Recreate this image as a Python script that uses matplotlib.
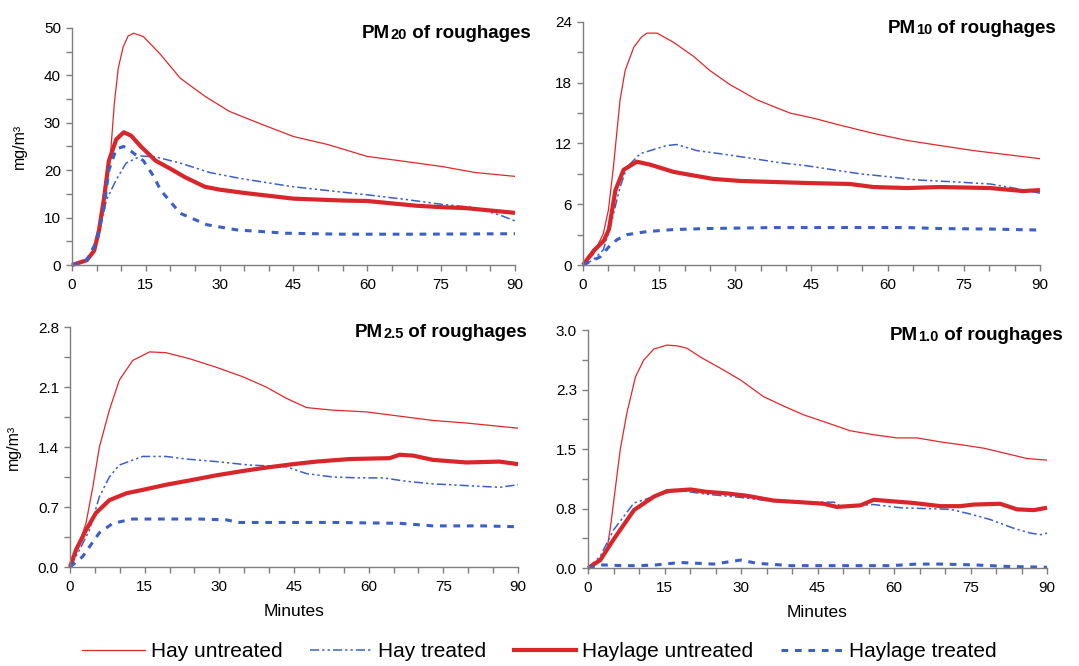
import matplotlib
matplotlib.use('Agg')
import matplotlib.pyplot as plt
from matplotlib.ticker import MultipleLocator, FixedLocator
from matplotlib.lines import Line2D

plt.rcParams['font.family'] = ['Liberation Sans', 'DejaVu Sans']

# ---- PM20 ----
pm20_hay_t = [0, 2, 4, 5.5, 6.5, 7.8, 8.6, 9.4, 10.4, 11.4, 12.5, 14.5, 18, 22, 27, 32, 38, 45, 52, 60, 68, 75, 82, 90]
pm20_hay_v = [0, 0.5, 2, 6, 13, 23, 34, 41.5, 46, 48.3, 48.9, 48.2, 44.4, 39.4, 35.6, 32.4, 29.9, 27.1, 25.4, 22.9, 21.8, 20.8, 19.5, 18.7]
pm20_hayt_t = [0, 2, 4, 5.5, 7, 9, 11, 14, 17, 22, 28, 34, 40, 45, 52, 60, 68, 75, 82, 87, 90]
pm20_hayt_v = [0, 0.5, 2, 7, 13.7, 18, 21.5, 23, 22.8, 21.5, 19.5, 18.3, 17.3, 16.5, 15.7, 14.8, 13.8, 12.8, 12.1, 10.5, 9.3]
pm20_hlg_t = [0, 3, 4.5, 5.5, 6.5, 7.5, 9, 10.5, 12, 14, 17, 20, 23, 27, 30, 35, 40, 45, 50, 55, 60, 65, 70, 75, 80, 85, 90]
pm20_hlg_v = [0, 1, 3, 7.4, 14, 22, 26.5, 28, 27.3, 25, 22, 20.3, 18.5, 16.5, 15.9, 15.2, 14.6, 14.0, 13.8, 13.6, 13.5, 13.0, 12.5, 12.2, 12.0, 11.5, 11.0]
pm20_hlgt_t = [0, 3, 5, 6.5, 7.5, 9, 10.5, 12, 14.5, 16.6, 18, 22, 27.4, 33.5, 43.6, 55, 70, 90]
pm20_hlgt_v = [0, 1, 5, 12, 20, 24.5, 25, 24, 22, 18.7, 15.8, 10.9, 8.5, 7.4, 6.7, 6.5, 6.5, 6.6]

# ---- PM10 ----
pm10_hay_t = [0, 2, 4, 5, 6, 7.3, 8.3, 10, 11.5, 12.6, 14.6, 17.8, 21.8, 25, 29, 34.3, 40.8, 45.4, 50.7, 57.2, 63.8, 70.3, 76.9, 83.5, 90]
pm10_hay_v = [0, 1, 3.1, 5.4, 9.7, 16.3, 19.2, 21.5, 22.5, 22.9, 22.9, 22.0, 20.6, 19.2, 17.8, 16.3, 15.0, 14.5, 13.8, 13.0, 12.3, 11.8, 11.3, 10.9, 10.5]
pm10_hayt_t = [0, 2, 4, 5.4, 7.3, 8.7, 11.3, 16.5, 18.5, 22.4, 28.3, 33.6, 38.8, 44.1, 49.3, 54.6, 60.5, 65.7, 73.6, 80.2, 84.8, 90]
pm10_hayt_v = [0, 0.5, 1.5, 3.8, 7.7, 9.7, 11, 11.8, 11.9, 11.3, 10.9, 10.5, 10.1, 9.8, 9.4, 9.0, 8.7, 8.4, 8.2, 8.0, 7.6, 7.1]
pm10_hlg_t = [0, 2.1, 4.1, 5.1, 6.4, 8, 10.6, 13.3, 17.8, 21.1, 25.7, 31, 37.5, 44, 52.6, 57.2, 63.8, 70.3, 80.2, 86.7, 90]
pm10_hlg_v = [0, 1.4, 2.4, 3.5, 7.4, 9.4, 10.2, 9.9, 9.2, 8.9, 8.5, 8.3, 8.2, 8.1, 8.0, 7.7, 7.6, 7.7, 7.6, 7.3, 7.4]
pm10_hlgt_t = [0, 3.4, 5.1, 6.7, 8.7, 12.6, 17.8, 24.4, 37.5, 50.7, 63.8, 70.3, 80.2, 90]
pm10_hlgt_v = [0, 0.8, 1.8, 2.5, 3.0, 3.3, 3.5, 3.6, 3.7, 3.7, 3.7, 3.6, 3.55, 3.45]

# ---- PM2.5 ----
pm25_hay_t = [0, 1.2, 3.2, 4.6, 5.9, 7.9, 9.9, 12.6, 16, 19.3, 24, 29.4, 34.7, 39.4, 43.4, 47.5, 52.8, 59.5, 66.2, 72.9, 79.6, 90]
pm25_hay_v = [0, 0.16, 0.51, 0.94, 1.40, 1.83, 2.18, 2.41, 2.51, 2.50, 2.43, 2.33, 2.22, 2.10, 1.97, 1.86, 1.83, 1.81, 1.76, 1.71, 1.68, 1.62]
pm25_hayt_t = [0, 1.9, 3.9, 5.9, 7.9, 9.9, 14.6, 19.3, 23.3, 29.4, 36, 43.4, 47.5, 52.8, 58.2, 62.9, 67.6, 72.9, 79.6, 86.3, 90]
pm25_hayt_v = [0, 0.2, 0.43, 0.82, 1.05, 1.19, 1.29, 1.29, 1.26, 1.23, 1.19, 1.17, 1.09, 1.05, 1.04, 1.04, 1.0, 0.97, 0.95, 0.93, 0.96]
pm25_hlg_t = [0, 1.2, 3.2, 5.2, 7.9, 11.3, 14.6, 19.3, 24, 29.4, 34.7, 39.4, 44.8, 49.5, 56.2, 64.2, 66.2, 68.9, 72.9, 79.6, 86.3, 90]
pm25_hlg_v = [0, 0.2, 0.43, 0.63, 0.78, 0.86, 0.9, 0.96, 1.01, 1.07, 1.12, 1.16, 1.20, 1.23, 1.26, 1.27, 1.31, 1.30, 1.25, 1.22, 1.23, 1.20]
pm25_hlgt_t = [0, 2.5, 5.9, 8.6, 12.6, 19.3, 26, 31.4, 34, 42.8, 52.8, 66.2, 72.9, 82.9, 90]
pm25_hlgt_v = [0, 0.12, 0.40, 0.51, 0.56, 0.56, 0.56, 0.55, 0.52, 0.52, 0.52, 0.51, 0.48, 0.48, 0.47]

# ---- PM1.0 ----
pm1_hay_t = [0, 1.8, 3.7, 4.4, 5.4, 6.3, 7.6, 9.3, 10.9, 12.9, 15.5, 17.5, 19.4, 22, 25.9, 29.9, 34.4, 38.4, 42.3, 46.9,
             51.4, 56, 60.6, 64.5, 69.1, 73.6, 77.6, 82.2, 86.1, 90]
pm1_hay_v = [0, 0.06, 0.23, 0.52, 1.03, 1.49, 1.95, 2.41, 2.62, 2.76, 2.81, 2.80, 2.77, 2.66, 2.52, 2.37, 2.16, 2.04, 1.93, 1.83,
             1.73, 1.68, 1.64, 1.64, 1.59, 1.55, 1.51, 1.44, 1.38, 1.36]
pm1_hayt_t = [0, 2.4, 5, 9, 12.9, 16.8, 18.7, 23.3, 29.9, 36.4, 42.9, 48.2, 49.5, 56, 61.2, 65.8, 71, 75, 78.9, 83.5, 86.8, 88.7, 90]
pm1_hayt_v = [0, 0.15, 0.48, 0.82, 0.9, 0.97, 0.97, 0.93, 0.89, 0.84, 0.83, 0.83, 0.78, 0.80, 0.76, 0.75, 0.74, 0.68, 0.61, 0.50, 0.44, 0.42, 0.44]
pm1_hlg_t = [0, 2.4, 5, 9, 12.9, 15.5, 20.1, 23.3, 27.3, 31.2, 36.4, 41.6, 46.2, 48.8, 53.4, 56, 59.9, 63.8, 69.1, 73, 75.6, 80.8, 84.1, 87.4, 90]
pm1_hlg_v = [0, 0.1, 0.36, 0.73, 0.90, 0.97, 0.99, 0.96, 0.94, 0.91, 0.85, 0.83, 0.81, 0.77, 0.79, 0.86, 0.84, 0.82, 0.78, 0.78, 0.80, 0.81, 0.74, 0.73, 0.76]
pm1_hlgt_t = [0, 2.4, 7, 10.3, 13.5, 18.1, 24.6, 29.9, 33.1, 39.7, 49.5, 59.3, 64.5, 69.1, 75.6, 82.2, 90]
pm1_hlgt_v = [0, 0.04, 0.03, 0.03, 0.04, 0.07, 0.05, 0.1, 0.06, 0.03, 0.03, 0.03, 0.05, 0.05, 0.04, 0.02, 0.01]

series_names = ['Hay untreated', 'Hay treated', 'Haylage untreated', 'Haylage treated']
RED = '#e3262b'
BLUE = '#3b5fc9'
styles = [
    dict(color=RED, lw=0.9, ls='-'),
    dict(color=BLUE, lw=1.1, ls=(0, (6, 2, 1.5, 2, 1.5, 2))),
    dict(color='#d8262b', lw=3.0, ls='-'),
    dict(color=BLUE, lw=2.2, ls=(0, (2.2, 2.2))),
]

panels = [
    dict(rect=[0.0667, 0.6021, 0.4106, 0.3559], sub='20', series=[(pm20_hay_t, pm20_hay_v), (pm20_hayt_t, pm20_hayt_v),
         (pm20_hlg_t, pm20_hlg_v), (pm20_hlgt_t, pm20_hlgt_v)], ymax=50, major=[0, 10, 20, 30, 40, 50],
         labels=['0', '10', '20', '30', '40', '50'], minor=5, title_x=0.655, ylab=True, xlab=False),
    dict(rect=[0.5403, 0.6021, 0.4235, 0.3649], sub='10', series=[(pm10_hay_t, pm10_hay_v), (pm10_hayt_t, pm10_hayt_v),
         (pm10_hlg_t, pm10_hlg_v), (pm10_hlgt_t, pm10_hlgt_v)], ymax=24, major=[0, 6, 12, 18, 24],
         labels=['0', '6', '12', '18', '24'], minor=3, title_x=0.667, ylab=False, xlab=False),
    dict(rect=[0.0649, 0.1486, 0.4152, 0.3604], sub='2.5', series=[(pm25_hay_t, pm25_hay_v), (pm25_hayt_t, pm25_hayt_v),
         (pm25_hlg_t, pm25_hlg_v), (pm25_hlgt_t, pm25_hlgt_v)], ymax=2.8, major=[0, 0.7, 1.4, 2.1, 2.8],
         labels=['0.0', '0.7', '1.4', '2.1', '2.8'], minor=0.35, title_x=0.636, ylab=True, xlab=True),
    dict(rect=[0.545, 0.1471, 0.4254, 0.3574], sub='1.0', series=[(pm1_hay_t, pm1_hay_v), (pm1_hayt_t, pm1_hayt_v),
         (pm1_hlg_t, pm1_hlg_v), (pm1_hlgt_t, pm1_hlgt_v)], ymax=3.0, major=[0, 0.75, 1.5, 2.25, 3.0],
         labels=['0.0', '0.8', '1.5', '2.3', '3.0'], minor=0.375, title_x=0.658, ylab=False, xlab=True),
]

fig = plt.figure(figsize=(10.79, 6.66), dpi=100)

for p in panels:
    ax = fig.add_axes(p['rect'])
    for (t, v), st in zip(p['series'], styles):
        ax.plot(t, v, clip_on=False, solid_capstyle='butt', **st)
    ax.set_xlim(0, 90)
    ax.set_ylim(0, p['ymax'])
    ax.xaxis.set_major_locator(MultipleLocator(15))
    ax.xaxis.set_minor_locator(MultipleLocator(5))
    ax.yaxis.set_major_locator(FixedLocator(p['major']))
    ax.set_yticklabels(p['labels'])
    ax.yaxis.set_minor_locator(MultipleLocator(p['minor']))
    for s in ['top', 'right']:
        ax.spines[s].set_visible(False)
    for s in ['left', 'bottom']:
        ax.spines[s].set_color('#7f7f7f')
        ax.spines[s].set_linewidth(1.0)
    ax.tick_params(which='both', direction='out', color='#7f7f7f', length=4.5, width=1.0, labelsize=11)
    ax.tick_params(axis='x', pad=5)
    if p['ylab']:
        ax.set_ylabel('mg/m³', fontsize=11.5, labelpad=12)
    if p['xlab']:
        ax.set_xlabel('Minutes', fontsize=12.5, labelpad=7)
    t1 = ax.text(p['title_x'], 0.94, 'PM', transform=ax.transAxes, fontsize=13.5, fontweight='bold',
                 ha='left', va='bottom')
    t2 = ax.annotate(p['sub'], xy=(1, 0), xycoords=t1, fontsize=10.5, fontweight='bold', ha='left', va='bottom')
    ax.annotate(' of roughages', xy=(1, 0), xycoords=(t2, t1), fontsize=13.5, fontweight='bold',
                ha='left', va='bottom')

handles = [Line2D([], [], **st) for st in styles]
fig.legend(handles, series_names, loc='center', bbox_to_anchor=(0.5, 0.022), ncol=4, frameon=False,
           prop=dict(size=15), handlelength=3.0, handletextpad=0.3, columnspacing=1.3)

fig.savefig('out.png', dpi=100)
